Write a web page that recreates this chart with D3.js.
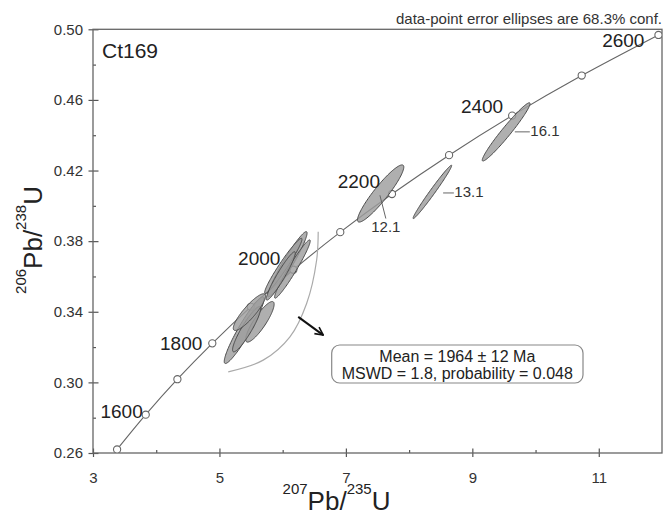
<!DOCTYPE html>
<html>
<head>
<meta charset="utf-8">
<script src="https://d3js.org/d3.v7.min.js"></script>
<style>
    body { margin: 0; background: #fff; }
    svg { font-family: "Liberation Sans", Arial, sans-serif; }
    .frame { fill: none; stroke: #666; stroke-width: 1.3px; }
    .axis line { stroke: #555; stroke-width: 1.2px; }
    .axis text { fill: #333; font-size: 15px; font-family: "Liberation Sans", Arial, sans-serif; }
    .concordia { fill: none; stroke: #666; stroke-width: 1.1px; }
    .age-dot { fill: #fff; stroke: #666; stroke-width: 1.1px; }
    .age-label { fill: #222; font-size: 19px; }
    .spot { fill: #9e9e9e; fill-opacity: 0.82; stroke: #4a4a4a; stroke-width: 1px; }
    .arc { fill: none; stroke: #aaa; stroke-width: 1.2px; }
    .leader { stroke: #666; stroke-width: 1px; }
    .tag { fill: #333; font-size: 15px; }
</style>
</head>
<body>
<div id="chart"></div>
<script>
    // concordia ticks (Ma) and their ratios
    var ages = [1500, 1600, 1700, 1800, 1900, 2000, 2100, 2200, 2300, 2400, 2500, 2600];
    var concX = [3.381, 3.834, 4.335, 4.887, 5.496, 6.169, 6.911, 7.729, 8.632, 9.630, 10.730, 11.944];
    var concY = [0.2620, 0.2817, 0.3018, 0.3221, 0.3428, 0.3638, 0.3851, 0.4067, 0.4287, 0.4511, 0.4738, 0.4968];
    var labelledAges = [1600, 1800, 2000, 2200, 2400, 2600];

    // spot analyses: 207/235, 1s, 206/238, 1s, rho
    var spotNames = ["a", "b", "c", "d", "e", "f", "g", "h", "12.1", "13.1", "16.1"];
    var spotX   = [6.075, 6.154, 6.010, 5.970, 5.390, 5.640, 5.429, 5.474, 7.550, 8.368, 9.535];
    var spotSX  = [0.311, 0.282, 0.295, 0.230, 0.314, 0.225, 0.222, 0.255, 0.366, 0.305, 0.378];
    var spotY   = [0.3669, 0.3642, 0.3660, 0.3603, 0.3296, 0.3343, 0.3301, 0.3398, 0.4070, 0.4079, 0.4419];
    var spotSY  = [0.0185, 0.0165, 0.0156, 0.0137, 0.0189, 0.0115, 0.0128, 0.0104, 0.0162, 0.0151, 0.0165];
    var spotRho = [0.956, 0.966, 0.966, 0.949, 0.938, 0.866, 0.911, 0.878, 0.924, 0.987, 0.970];

    // thin grey arc to the right of the cluster
    var arcX = [5.139, 5.692, 6.115, 6.379, 6.537, 6.562];
    var arcY = [0.3060, 0.3126, 0.3258, 0.3447, 0.3692, 0.3853];

    // spot tags with leader lines
    var tagNames = ["12.1", "13.1", "16.1"];
    var tagFromX = [7.538, 8.538, 9.672];
    var tagFromY = [0.4060, 0.4073, 0.4419];
    var tagToX = [7.632, 8.708, 9.909];
    var tagToY = [0.3928, 0.4073, 0.4419];

    var arrowX = [6.246, 6.641];
    var arrowY = [0.3371, 0.3268];

    var xMajor = [3, 5, 7, 9, 11];
    var xMinor = [4, 6, 8, 10];
    var yMajor = [0.26, 0.30, 0.34, 0.38, 0.42, 0.46, 0.50];
    var yMinor = [0.28, 0.32, 0.36, 0.40, 0.44, 0.48];

    var sampleName = "Ct169";
    var note = "data-point error ellipses are 68.3% conf.";
    var resultLines = ["Mean = 1964 \u00b1 12 Ma", "MSWD = 1.8, probability = 0.048"];

    function makeChart() {
        var width = 663, height = 512;
        var m = { left: 93, right: 662, top: 29.3, bottom: 453 };

        var svg = d3.select("#chart").append("svg")
            .attr("width", width)
            .attr("height", height);

        var defs = svg.append("defs");
        defs.append("clipPath").attr("id", "plotclip")
            .append("rect")
            .attr("x", m.left).attr("y", m.top)
            .attr("width", m.right - m.left).attr("height", m.bottom - m.top);

        defs.append("marker")
            .attr("id", "arrowhead")
            .attr("viewBox", "0 0 10 10")
            .attr("refX", 9).attr("refY", 5)
            .attr("markerWidth", 5).attr("markerHeight", 5)
            .attr("markerUnits", "strokeWidth")
            .attr("orient", "auto")
            .append("path")
            .attr("d", "M1,1 L9,5 L1,9")
            .attr("fill", "none")
            .attr("stroke", "#111")
            .attr("stroke-width", 1.6);

        var x = d3.scaleLinear().domain([3, 12]).range([m.left, m.right]);
        var y = d3.scaleLinear().domain([0.26, 0.50]).range([m.bottom, m.top]);

        // x axis: majors cross the axis line, minors point inward
        var xAxis = svg.append("g")
            .attr("class", "axis")
            .attr("transform", "translate(0," + m.bottom + ")")
            .call(d3.axisBottom(x).tickValues(xMajor).tickSize(4).tickPadding(15.3).tickFormat(d3.format("d")));
        xAxis.selectAll(".tick line").attr("y1", -4.5);
        xAxis.select(".domain").remove();

        var xMin = svg.append("g")
            .attr("class", "axis")
            .attr("transform", "translate(0," + m.bottom + ")")
            .call(d3.axisTop(x).tickValues(xMinor).tickSize(3).tickFormat(""));
        xMin.select(".domain").remove();

        var yAxis = svg.append("g")
            .attr("class", "axis")
            .attr("transform", "translate(" + m.left + ",0)")
            .call(d3.axisLeft(y).tickValues(yMajor).tickSize(4.5).tickPadding(5.5).tickFormat(d3.format(".2f")));
        yAxis.selectAll(".tick line").attr("x1", 5.5);
        yAxis.select(".domain").remove();

        var yMin = svg.append("g")
            .attr("class", "axis")
            .attr("transform", "translate(" + m.left + ",0)")
            .call(d3.axisRight(y).tickValues(yMinor).tickSize(3).tickFormat(""));
        yMin.select(".domain").remove();

        svg.append("rect")
            .attr("class", "frame")
            .attr("x", m.left).attr("y", m.top)
            .attr("width", m.right - m.left).attr("height", m.bottom - m.top);

        var plot = svg.append("g").attr("clip-path", "url(#plotclip)");

        // concordia curve
        var conc = ages.map(function (a, i) { return { age: a, x: concX[i], y: concY[i] }; });
        var concLine = d3.line()
            .x(function (d) { return x(d.x); })
            .y(function (d) { return y(d.y); })
            .curve(d3.curveCatmullRom);
        plot.append("path")
            .attr("class", "concordia")
            .attr("d", concLine(conc));

        // age markers, under the ellipses
        plot.append("g")
            .selectAll("circle")
            .data(conc)
            .enter().append("circle")
            .attr("class", "age-dot")
            .attr("cx", function (d) { return x(d.x); })
            .attr("cy", function (d) { return y(d.y); })
            .attr("r", 3.6);

        // big arc
        plot.append("path")
            .attr("class", "arc")
            .attr("d", d3.line()
                .x(function (d) { return x(d[0]); })
                .y(function (d) { return y(d[1]); })
                .curve(d3.curveCatmullRom)(d3.zip(arcX, arcY)));

        // error ellipses, drawn in data space through the scales
        var theta = d3.range(0, 2 * Math.PI, Math.PI / 60);
        var ellipse = d3.line().curve(d3.curveLinearClosed);
        var spots = spotNames.map(function (n, i) {
            return { name: n, x: spotX[i], sx: spotSX[i], y: spotY[i], sy: spotSY[i], rho: spotRho[i] };
        });

        plot.append("g")
            .selectAll("path")
            .data(spots)
            .enter().append("path")
            .attr("class", "spot")
            .attr("d", function (d) {
                var k = Math.sqrt(1 - d.rho * d.rho);
                return ellipse(theta.map(function (t) {
                    return [x(d.x + d.sx * Math.cos(t)),
                            y(d.y + d.sy * (d.rho * Math.cos(t) + k * Math.sin(t)))];
                }));
            });

        // age labels, nudged like Isoplot places them
        var nudge = { 1600: [-3, 3], 1800: [-10, 7], 2000: [-13, -5], 2200: [-12, -6], 2400: [-9, -3], 2600: [-14, 12] };
        svg.append("g")
            .selectAll("text")
            .data(conc.filter(function (d) { return labelledAges.indexOf(d.age) >= 0; }))
            .enter().append("text")
            .attr("class", "age-label")
            .attr("text-anchor", "end")
            .attr("x", function (d) { return x(d.x) + nudge[d.age][0]; })
            .attr("y", function (d) { return y(d.y) + nudge[d.age][1]; })
            .text(function (d) { return d.age; });

        // spot tags
        tagNames.forEach(function (name, i) {
            svg.append("line")
                .attr("class", "leader")
                .attr("x1", x(tagFromX[i])).attr("y1", y(tagFromY[i]))
                .attr("x2", x(tagToX[i])).attr("y2", y(tagToY[i]));
            var t = svg.append("text").attr("class", "tag").text(name);
            if (i === 0) {
                t.attr("x", x(tagToX[i])).attr("y", y(tagToY[i]) + 13.5).attr("text-anchor", "middle");
            } else {
                t.attr("x", x(tagToX[i]) + 0.5).attr("y", y(tagToY[i]) + 4.5);
            }
        });

        // arrow
        svg.append("line")
            .attr("x1", x(arrowX[0])).attr("y1", y(arrowY[0]))
            .attr("x2", x(arrowX[1])).attr("y2", y(arrowY[1]))
            .attr("stroke", "#111")
            .attr("stroke-width", 2)
            .attr("marker-end", "url(#arrowhead)");

        // result box
        svg.append("rect")
            .attr("x", 331.7).attr("y", 345)
            .attr("width", 251.3).attr("height", 38)
            .attr("rx", 8).attr("ry", 8)
            .attr("fill", "#fff")
            .attr("stroke", "#888")
            .attr("stroke-width", 1.2);
        svg.selectAll("text.result")
            .data(resultLines)
            .enter().append("text")
            .attr("class", "result")
            .attr("x", 457.3)
            .attr("y", function (d, i) { return 361.7 + i * 17.3; })
            .attr("text-anchor", "middle")
            .attr("font-size", "16px")
            .attr("fill", "#222")
            .text(function (d) { return d; });

        // sample name and note
        svg.append("text")
            .attr("x", 102).attr("y", 58)
            .attr("font-size", "21px")
            .attr("fill", "#222")
            .text(sampleName);

        svg.append("text")
            .attr("x", 662).attr("y", 23.5)
            .attr("text-anchor", "end")
            .attr("font-size", "15px")
            .attr("fill", "#333")
            .text(note);

        // axis titles with superscript isotopes
        function isotopeTitle(g, parts) {
            var t = g.append("text")
                .attr("text-anchor", "middle")
                .attr("fill", "#222");
            parts.forEach(function (p) {
                t.append("tspan")
                    .attr("font-size", p.sup ? "15px" : "26px")
                    .attr("dy", p.sup ? -16 : 16)
                    .text(p.s);
            });
            return t;
        }

        var xt = svg.append("g").attr("transform", "translate(336.5,510)");
        isotopeTitle(xt, [{ s: "207", sup: true }, { s: "Pb/" }, { s: "235", sup: true }, { s: "U" }]);

        var yt = svg.append("g").attr("transform", "translate(42,240) rotate(-90)");
        isotopeTitle(yt, [{ s: "206", sup: true }, { s: "Pb/" }, { s: "238", sup: true }, { s: "U" }]);
    }

    makeChart();
</script>
</body>
</html>
